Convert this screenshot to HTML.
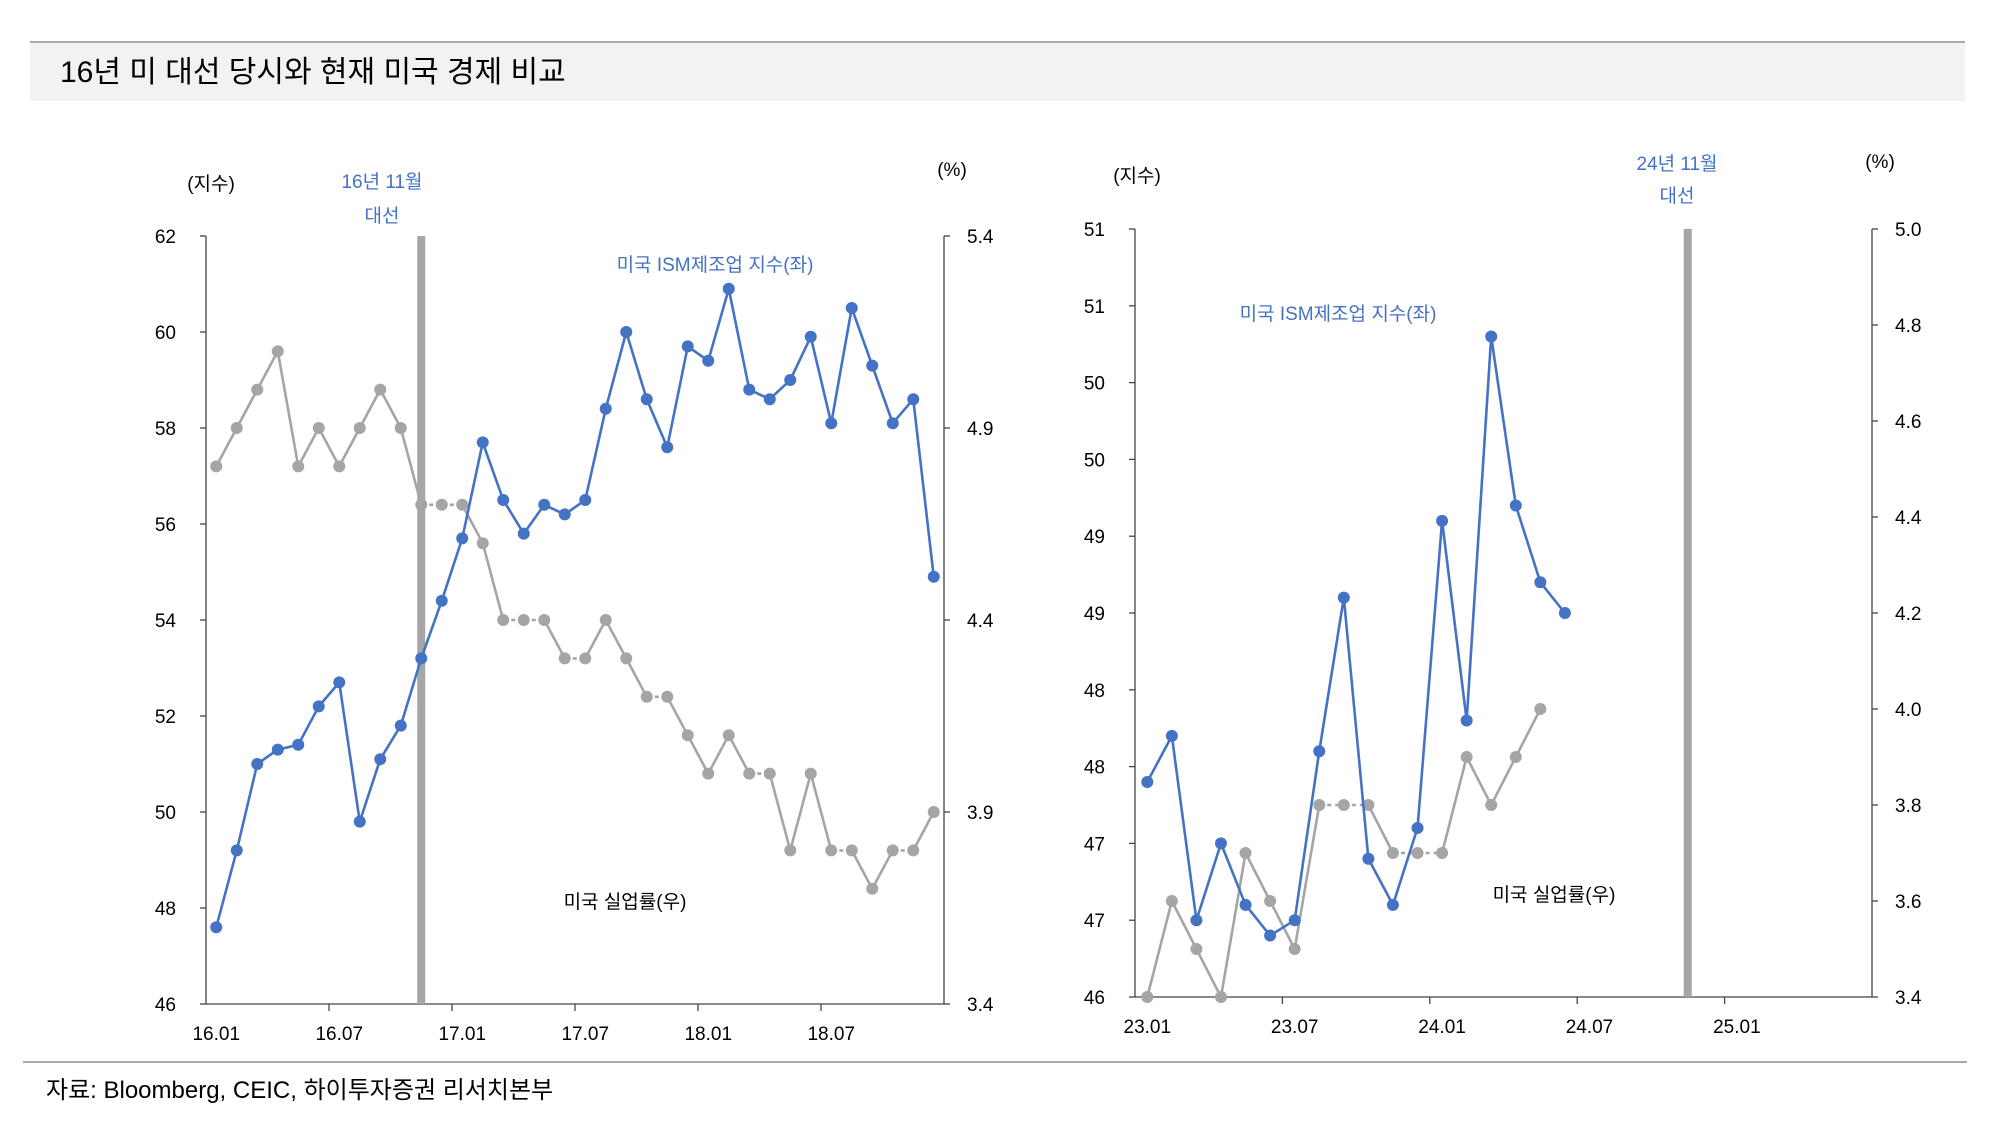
<!DOCTYPE html>
<html><head><meta charset="utf-8">
<style>
body{margin:0;background:#fff;width:2004px;height:1116px;overflow:hidden;font-family:"Liberation Sans","Noto Sans CJK KR",sans-serif;}
svg text{font-family:"Liberation Sans","Noto Sans CJK KR",sans-serif;}
</style></head>
<body>
<svg id="svg" width="2004" height="1116" xmlns="http://www.w3.org/2000/svg">
<line x1="30" y1="42" x2="1965" y2="42" stroke="#555" stroke-width="1"/>
<rect x="30" y="43" width="1935" height="58" fill="#f2f2f2"/>
<text x="60" y="82" font-size="30" fill="#000">16년 미 대선 당시와 현재 미국 경제 비교</text>
<line x1="23" y1="1062" x2="1967" y2="1062" stroke="#555" stroke-width="1"/>
<text x="46" y="1098" font-size="24" fill="#000">자료: Bloomberg, CEIC, 하이투자증권 리서치본부</text>
<g id="c1"></g>
<g id="c2"></g>
<g font-size="19" fill="#000">
<text x="211" y="190" text-anchor="middle">(지수)</text>
<text x="382" y="188" text-anchor="middle" fill="#4472c4">16년 11월</text>
<text x="382" y="222" text-anchor="middle" fill="#4472c4">대선</text>
<text x="952" y="176" text-anchor="middle">(%)</text>
<text x="715" y="271" text-anchor="middle" fill="#4472c4">미국 ISM제조업 지수(좌)</text>
<text x="625" y="908" text-anchor="middle">미국 실업률(우)</text>
<text x="1137" y="182" text-anchor="middle">(지수)</text>
<text x="1677" y="170" text-anchor="middle" fill="#4472c4">24년 11월</text>
<text x="1677" y="202" text-anchor="middle" fill="#4472c4">대선</text>
<text x="1880" y="168" text-anchor="middle">(%)</text>
<text x="1338" y="320" text-anchor="middle" fill="#4472c4">미국 ISM제조업 지수(좌)</text>
<text x="1554" y="901" text-anchor="middle">미국 실업률(우)</text>
</g>
</svg>
<script>
// Chart 1 (2016-2018)
const cats1 = ["16.01","16.02","16.03","16.04","16.05","16.06","16.07","16.08","16.09","16.10","16.11","16.12","17.01","17.02","17.03","17.04","17.05","17.06","17.07","17.08","17.09","17.10","17.11","17.12","18.01","18.02","18.03","18.04","18.05","18.06","18.07","18.08","18.09","18.10","18.11","18.12"];
const ism1 = [47.6,49.2,51.0,51.3,51.4,52.2,52.7,49.8,51.1,51.8,53.2,54.4,55.7,57.7,56.5,55.8,56.4,56.2,56.5,58.4,60.0,58.6,57.6,59.7,59.4,60.9,58.8,58.6,59.0,59.9,58.1,60.5,59.3,58.1,58.6,54.9];
const unemp1 = [4.8,4.9,5.0,5.1,4.8,4.9,4.8,4.9,5.0,4.9,4.7,4.7,4.7,4.6,4.4,4.4,4.4,4.3,4.3,4.4,4.3,4.2,4.2,4.1,4.0,4.1,4.0,4.0,3.8,4.0,3.8,3.8,3.7,3.8,3.8,3.9];
const leftTicks1 = [46,48,50,52,54,56,58,60,62];
const leftTickLabels1 = ["46","48","50","52","54","56","58","60","62"];
const rightTicks1 = [3.4,3.9,4.4,4.9,5.4];
const rightTickLabels1 = ["3.4","3.9","4.4","4.9","5.4"];
const xLabels1 = ["16.01","16.07","17.01","17.07","18.01","18.07"];
const election1 = "16.11";
// Chart 2 (2023-2025)
const cats2 = ["23.01","23.02","23.03","23.04","23.05","23.06","23.07","23.08","23.09","23.10","23.11","23.12","24.01","24.02","24.03","24.04","24.05","24.06","24.07","24.08","24.09","24.10","24.11","24.12","25.01","25.02","25.03","25.04","25.05","25.06"];
const ism2 = [47.4,47.7,46.5,47.0,46.6,46.4,46.5,47.6,48.6,46.9,46.6,47.1,49.1,47.8,50.3,49.2,48.7,48.5];
const unemp2 = [3.4,3.6,3.5,3.4,3.7,3.6,3.5,3.8,3.8,3.8,3.7,3.7,3.7,3.9,3.8,3.9,4.0];
const leftTicks2 = [46,46.5,47,47.5,48,48.5,49,49.5,50,50.5,51];
const leftTickLabels2 = ["46","47","47","48","48","49","49","50","50","51","51"];
const rightTicks2 = [3.4,3.6,3.8,4.0,4.2,4.4,4.6,4.8,5.0];
const rightTickLabels2 = ["3.4","3.6","3.8","4.0","4.2","4.4","4.6","4.8","5.0"];
const xLabels2 = ["23.01","23.07","24.01","24.07","25.01"];
const election2 = "24.11";

const NS="http://www.w3.org/2000/svg";
function mk(parent,tag,attrs){const e=document.createElementNS(NS,tag);for(const k in attrs)e.setAttribute(k,attrs[k]);parent.appendChild(e);return e;}

function drawChart(g,o){
  const n=o.cats.length, bw=(o.x1-o.x0)/n;
  const xs=i=>o.x0+bw*(i+0.5);
  const yl=v=>o.y1-(v-o.lmin)/(o.lmax-o.lmin)*(o.y1-o.y0);
  const yr=v=>o.y1-(v-o.rmin)/(o.rmax-o.rmin)*(o.y1-o.y0);
  let a;
  a=mk(g,'line',{x1:o.x0,y1:o.y0,x2:o.x0,y2:o.y1,stroke:'#444','stroke-width':1.3});
  
  
  a=mk(g,'line',{x1:o.x1,y1:o.y0,x2:o.x1,y2:o.y1,stroke:'#444','stroke-width':1.3});
  
  
  a=mk(g,'line',{x1:o.x0,y1:o.y1,x2:o.x1,y2:o.y1,stroke:'#444','stroke-width':1.3});
  
  
  o.lt.forEach((v,i)=>{
    const y=yl(v);
    let t=mk(g,'line',{x1:o.x0-6,y1:y,x2:o.x0,y2:y,stroke:'#444','stroke-width':1.3});
    
    
    t=mk(g,'text',{x:o.x0-30,y:y+7,'font-size':19,'text-anchor':'end',fill:'#000'});t.textContent=o.ltl[i];
    
    
  });
  o.rt.forEach((v,i)=>{
    const y=yr(v);
    let t=mk(g,'line',{x1:o.x1,y1:y,x2:o.x1+6,y2:y,stroke:'#444','stroke-width':1.3});
    
    
    t=mk(g,'text',{x:o.x1+23,y:y+7,'font-size':19,fill:'#000'});t.textContent=o.rtl[i];
    
    
  });
  o.xl.forEach(l=>{
    const i=o.cats.indexOf(l);
    const bx=o.x0+bw*i;
    let t;
    if(i>0){t=mk(g,'line',{x1:bx,y1:o.y1,x2:bx,y2:o.y1+7,stroke:'#444','stroke-width':1.3});
    
    }
    t=mk(g,'text',{x:xs(i),y:o.y1+36,'font-size':19,'text-anchor':'middle',fill:'#000'});t.textContent=l;
    
    
  });
  const ei=o.cats.indexOf(o.elec);
  a=mk(g,'rect',{x:xs(ei)-4,y:o.y0,width:8,height:o.y1-o.y0,fill:'#a6a6a6'});
  
  
  function series(vals,yf,color,name){
    for(let i=1;i<vals.length;i++){
      const s=mk(g,'line',{x1:xs(i-1),y1:yf(vals[i-1]),x2:xs(i),y2:yf(vals[i]),stroke:color,'stroke-width':2.6});
      if(vals[i]===vals[i-1])s.setAttribute('stroke-dasharray','4 4');
      
      
    }
    vals.forEach((v,i)=>{
      const c=mk(g,'circle',{cx:xs(i),cy:yf(v),r:6,fill:color});
      
      
    });
  }
  series(o.un,yr,'#a5a5a5','unemployment');
  series(o.ism,yl,'#4472c4','ism');
}

drawChart(document.getElementById('c1'),{x0:206,x1:944,y0:236,y1:1004,cats:cats1,ism:ism1,un:unemp1,lmin:46,lmax:62,rmin:3.4,rmax:5.4,lt:leftTicks1,ltl:leftTickLabels1,rt:rightTicks1,rtl:rightTickLabels1,xl:xLabels1,elec:election1});
drawChart(document.getElementById('c2'),{x0:1135,x1:1872,y0:229,y1:997,cats:cats2,ism:ism2,un:unemp2,lmin:46,lmax:51,rmin:3.4,rmax:5.0,lt:leftTicks2,ltl:leftTickLabels2,rt:rightTicks2,rtl:rightTickLabels2,xl:xLabels2,elec:election2});
</script>
</body></html>
